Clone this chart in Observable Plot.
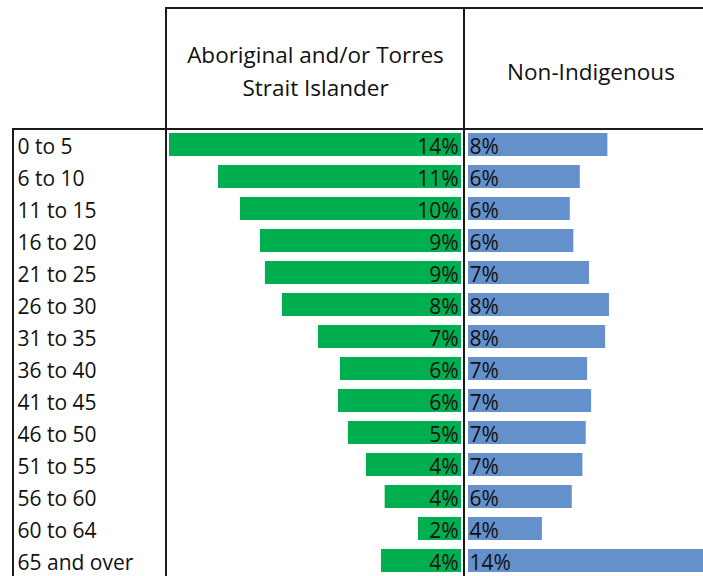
<!DOCTYPE html>
<html>
<head>
<meta charset="utf-8">
<script src="https://cdn.jsdelivr.net/npm/d3@7"></script>
<script src="https://cdn.jsdelivr.net/npm/@observablehq/plot@0.6"></script>
<style>
  html, body { margin: 0; padding: 0; background: #fff; }
  #wrap { position: relative; width: 703px; height: 576px; overflow: hidden; font-family: "Open Sans", sans-serif; color: #111; }
  .line { position: absolute; background: #1a1a1a; }
  .hdr { position: absolute; display: flex; align-items: center; justify-content: center; text-align: center; font-size: 22.5px; line-height: 33px; }
  .plot { position: absolute; }
</style>
</head>
<body>
<div id="wrap"></div>
<script>
const ages = ["0 to 5", "6 to 10", "11 to 15", "16 to 20", "21 to 25", "26 to 30", "31 to 35",
  "36 to 40", "41 to 45", "46 to 50", "51 to 55", "56 to 60", "60 to 64", "65 and over"];
const indigenous = [13.58, 11.3, 10.28, 9.35, 9.12, 8.33, 6.65, 5.63, 5.72, 5.26, 4.42, 3.55, 2.0, 3.72];
const nonIndigenous = [7.98, 6.4, 5.83, 6.03, 6.93, 8.07, 7.85, 6.82, 7.05, 6.74, 6.55, 5.94, 4.23, 14.2];
const headers = ["Aboriginal and/or Torres<br>Strait Islander", "Non-Indigenous"];

const green = "#00b050";
const blue = "#6490cc";
const pct = v => `${Math.round(v)}%`;

const rowsL = ages.map((a, i) => ({age: a, v: indigenous[i]}));
const rowsR = ages.map((a, i) => ({age: a, v: nonIndigenous[i]}));

const wrap = document.getElementById("wrap");
const yScale = {domain: ages, paddingInner: 0.267, paddingOuter: 0.114};
const font = {fontFamily: "Open Sans", fontSize: "21px", color: "#111", background: "transparent", overflow: "visible"};
const fs = 21;

const left = Plot.plot({
  width: 451, height: 448,
  marginLeft: 156, marginRight: 3, marginTop: 0, marginBottom: 0,
  style: font,
  x: {domain: [0, d3.max(indigenous)], reverse: true, axis: null},
  y: {...yScale, label: null},
  marks: [
    Plot.barX(rowsL, {x: "v", y: "age", fill: green}),
    Plot.text(rowsL, {x: 0, y: "age", text: d => pct(d.v), textAnchor: "end", dx: -3, dy: 2, fontSize: fs, fill: "#111"}),
    Plot.axisY({tickSize: 0, tickPadding: 0, textAnchor: "start", dx: -152, dy: 2, fontSize: fs, label: null, fill: "#111"})
  ]
});
left.classList.add("plot");
left.style.left = "13px"; left.style.top = "129px";

const right = Plot.plot({
  width: 255, height: 448,
  marginLeft: 4, marginRight: 3, marginTop: 0, marginBottom: 0,
  style: font,
  x: {domain: [0, d3.max(nonIndigenous)], axis: null},
  y: {...yScale, axis: null},
  marks: [
    Plot.barX(rowsR, {x: "v", y: "age", fill: blue}),
    Plot.text(rowsR, {x: 0, y: "age", text: d => pct(d.v), textAnchor: "start", dx: 1, dy: 2, fontSize: fs, fill: "#111"})
  ]
});
right.classList.add("plot");
right.style.left = "464px"; right.style.top = "129px";

wrap.appendChild(left);
wrap.appendChild(right);

function addLine(x, y, w, h) {
  const d = document.createElement("div");
  d.className = "line";
  Object.assign(d.style, {left: x + "px", top: y + "px", width: w + "px", height: h + "px"});
  wrap.appendChild(d);
}
function addHdr(html, x, w) {
  const d = document.createElement("div");
  d.className = "hdr";
  d.innerHTML = html;
  Object.assign(d.style, {left: x + "px", top: "11px", width: w + "px", height: "120px"});
  wrap.appendChild(d);
}
addHdr(headers[0], 167, 297);
addHdr(headers[1], 465, 252);

addLine(165, 7, 560, 2);     // top of header
addLine(165, 7, 2, 580);     // left of header / right of labels
addLine(463, 7, 2, 580);     // middle divider
addLine(12, 128, 720, 2);    // under header
addLine(12, 128, 2, 460);    // left of labels
</script>
</body>
</html>
